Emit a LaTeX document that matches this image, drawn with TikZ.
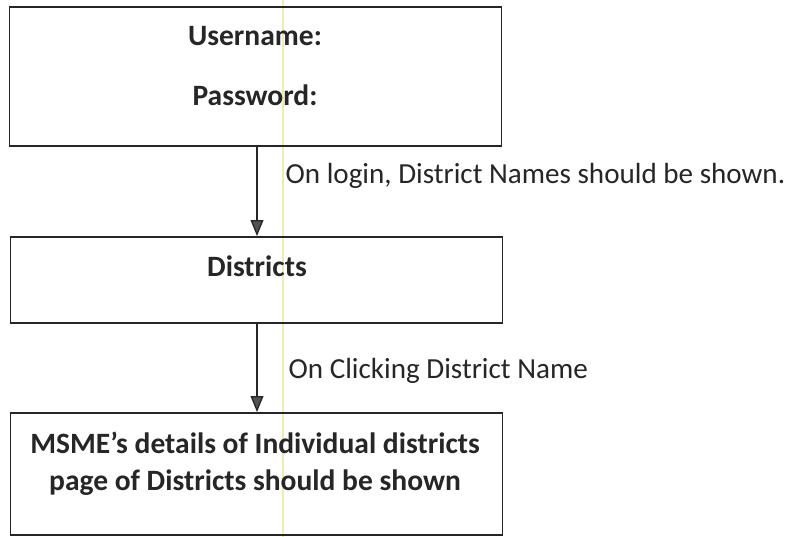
\documentclass[tikz,border=0pt]{standalone}
\usepackage{fontspec}
\setmainfont{Carlito}
\usepackage{xcolor}
\usepackage{tikz}
\usetikzlibrary{calc}
\usetikzlibrary{arrows.meta}
\definecolor{inkgray}{HTML}{262626}
\definecolor{scanyellow}{HTML}{F2EBB0}
\tikzset{>={Triangle[length=0.4cm,width=0.32cm,fill=inkgray!80]}}

\begin{document}
\begin{tikzpicture}[x=0.025cm,y=-0.025cm,font=\fontsize{20.7}{24.8}\selectfont,text=inkgray,
	screen/.style={draw=inkgray,line width=1.3pt,minimum width=12.3cm},
	title/.style={font=\fontsize{21}{25.2}\selectfont\bfseries},
	flow/.style={->,draw=inkgray,line width=0.9pt}]
	\useasboundingbox (0,0) rectangle (788,537);
	\draw[scanyellow,line width=2pt] (283,0) -- (283,537);
	\node[screen,minimum height=3.475cm] (login) at (255.5,76.5) {};
	\node[screen,minimum height=2.15cm] (dist) at (256.5,280) {};
	\node[screen,minimum height=3.05cm] (msme) at (256.5,474) {};
	\node[title] (user) at (255,36) {Username:};
	\node[title] (pass) at (255,95) {Password:};
	\node[title] (disttxt) at (257,266) {Districts};
	\node[title,align=center] (msmetxt) at (255,464)
		{MSME’s details of Individual districts\\[1pt]page of Districts should be shown};
	\draw[flow] (login.south -| 257,0) -- (dist.north -| 257,0)
		node[pos=0.32,anchor=west,inner sep=0pt,xshift=0.7cm] {On login, District Names should be shown.};
	\draw[flow] (dist.south -| 257,0) -- (msme.north -| 257,0)
		node[pos=0.53,anchor=west,inner sep=0pt,xshift=0.775cm] {On Clicking District Name};
\end{tikzpicture}
\end{document}
